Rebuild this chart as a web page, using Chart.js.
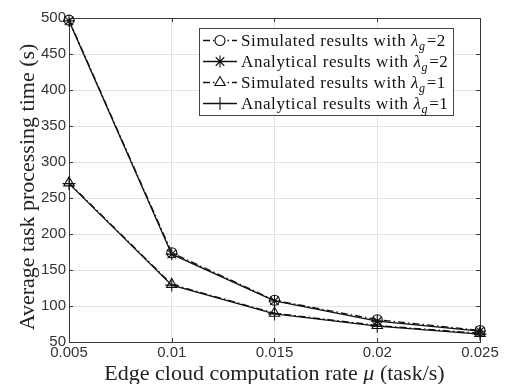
<!DOCTYPE html>
<html>
<head>
<meta charset="utf-8">
<script src="https://cdn.jsdelivr.net/npm/chart.js@4.4.0/dist/chart.umd.min.js"></script>
<style>
  html, body { margin: 0; padding: 0; background: #fff; }
  #wrap { width: 510px; height: 384px; }
</style>
</head>
<body>
<div id="wrap"><canvas id="myChart" width="510" height="384"></canvas></div>
<script>
// edge cloud computation rate (task/s)
const rates = [0.005, 0.01, 0.015, 0.02, 0.025];
const yTicks = [50, 100, 150, 200, 250, 300, 350, 400, 450, 500];

// average task processing time (s)
const simLambda2 = [497, 174, 108, 81, 66];
const anaLambda2 = [496, 172, 107, 79, 65];
const simLambda1 = [271, 130, 90, 73, 62];
const anaLambda1 = [270, 129, 89, 72, 61];

const seriesNames = ['Simulated results with ', 'Analytical results with ',
                     'Simulated results with ', 'Analytical results with '];
const seriesLambda = ['2', '2', '1', '1'];

const DASHDOT = [7, 3, 1.5, 3];
const AXIS_COLOR = '#3a3a3a';
const GRID_COLOR = '#e3e3e3';

function toPoints(values) {
  return values.map((v, i) => ({ x: rates[i], y: v }));
}

function makeSet(values, style, dash, radius) {
  return {
    data: toPoints(values),
    borderColor: '#111',
    borderWidth: 1.3,
    borderDash: dash,
    pointStyle: style,
    pointRadius: radius,
    pointHoverRadius: radius,
    pointBorderColor: '#111',
    pointBackgroundColor: 'rgba(0,0,0,0)',
    pointBorderWidth: 1.1,
    fill: false,
    tension: 0,
    clip: false
  };
}

const datasets = [
  makeSet(simLambda2, 'circle', DASHDOT, 5),
  makeSet(anaLambda2, 'star', [], 6),
  makeSet(simLambda1, 'triangle', DASHDOT, 6),
  makeSet(anaLambda1, 'cross', [], 6.5)
];

// inward ticks on all four sides plus the closing box
const frame = {
  id: 'frame',
  beforeDatasetsDraw(chart) {
    const { ctx, chartArea: a, scales } = chart;
    ctx.save();
    ctx.strokeStyle = AXIS_COLOR;
    ctx.lineWidth = 1;
    ctx.strokeRect(a.left + 0.5, a.top + 0.5, a.right - a.left, a.bottom - a.top);
    const len = 4;
    ctx.beginPath();
    rates.forEach(v => {
      const x = Math.round(scales.x.getPixelForValue(v)) + 0.5;
      ctx.moveTo(x, a.bottom); ctx.lineTo(x, a.bottom - len);
      ctx.moveTo(x, a.top); ctx.lineTo(x, a.top + len);
    });
    yTicks.forEach(v => {
      const y = Math.round(scales.y.getPixelForValue(v)) + 0.5;
      ctx.moveTo(a.left, y); ctx.lineTo(a.left + len, y);
      ctx.moveTo(a.right, y); ctx.lineTo(a.right - len, y);
    });
    ctx.stroke();
    ctx.restore();
  }
};

// axis titles with the italic mu
const titles = {
  id: 'titles',
  afterDraw(chart) {
    const { ctx, chartArea: a } = chart;
    ctx.save();
    ctx.fillStyle = '#222';
    ctx.textBaseline = 'alphabetic';

    // x title, mixed roman / italic
    const parts = [
      ['Edge cloud computation rate ', 'normal'],
      ['\u03bc', 'italic'],
      [' (task/s)', 'normal']
    ];
    const size = 22;
    let total = 0;
    parts.forEach(p => { ctx.font = p[1] + ' ' + size + 'px "Liberation Serif"'; total += ctx.measureText(p[0]).width; });
    let x = (a.left + a.right) / 2 - total / 2;
    parts.forEach(p => {
      ctx.font = p[1] + ' ' + size + 'px "Liberation Serif"';
      ctx.textAlign = 'left';
      ctx.fillText(p[0], x, 380);
      x += ctx.measureText(p[0]).width;
    });

    // y title
    ctx.translate(34, (a.top + a.bottom) / 2 + 7);
    ctx.rotate(-Math.PI / 2);
    ctx.font = size + 'px "Liberation Serif"';
    ctx.textAlign = 'center';
    ctx.fillText('Average task processing time (s)', 0, 0);
    ctx.restore();
  }
};

// legend box with the lambda_g subscripts
const legendBox = {
  id: 'legendBox',
  afterDraw(chart) {
    const { ctx } = chart;
    const box = { left: 199, top: 28, right: 453, bottom: 115 };
    const rows = [40, 61, 82, 103];
    ctx.save();
    ctx.fillStyle = '#fff';
    ctx.fillRect(box.left, box.top, box.right - box.left, box.bottom - box.top);
    ctx.strokeStyle = '#444';
    ctx.lineWidth = 1;
    ctx.strokeRect(box.left + 0.5, box.top + 0.5, box.right - box.left, box.bottom - box.top);

    datasets.forEach((ds, i) => {
      const y = rows[i];
      const x0 = box.left + 4, x1 = box.left + 38, xm = (x0 + x1) / 2;
      ctx.strokeStyle = '#111';
      ctx.lineWidth = 1.3;
      ctx.setLineDash(ds.borderDash);
      ctx.beginPath();
      ctx.moveTo(x0, y + 0.5); ctx.lineTo(x1, y + 0.5);
      ctx.stroke();
      ctx.setLineDash([]);
      ctx.lineWidth = 1.1;
      ctx.fillStyle = '#fff';
      Chart.helpers.drawPoint(ctx, {
        pointStyle: ds.pointStyle, radius: ds.pointRadius, rotation: 0, borderWidth: 1.1
      }, xm, y + 0.5);

      let tx = x1 + 4;
      const base = y + 6;
      ctx.fillStyle = '#111';
      ctx.textAlign = 'left';
      ctx.textBaseline = 'alphabetic';
      ctx.letterSpacing = '0.6px';
      ctx.font = '17px "Liberation Serif"';
      ctx.fillText(seriesNames[i], tx, base);
      tx += ctx.measureText(seriesNames[i]).width;
      ctx.font = 'italic 17px "Liberation Serif"';
      ctx.fillText('\u03bb', tx, base);
      tx += ctx.measureText('\u03bb').width;
      ctx.font = 'italic 12px "Liberation Serif"';
      ctx.fillText('g', tx, base + 4);
      tx += ctx.measureText('g').width + 1;
      ctx.font = '17px "Liberation Serif"';
      ctx.fillText('=' + seriesLambda[i], tx, base);
    });
    ctx.restore();
  }
};

const ctx = document.getElementById('myChart').getContext('2d');
const chart = new Chart(ctx, {
  type: 'line',
  data: { datasets },
  plugins: [frame, titles, legendBox],
  options: {
    responsive: false,
    animation: false,
    layout: { padding: { left: 0, right: 30, top: 18, bottom: 0 } },
    plugins: { legend: { display: false }, tooltip: { enabled: false } },
    scales: {
      x: {
        type: 'linear',
        min: rates[0],
        max: rates[rates.length - 1],
        afterBuildTicks: s => { s.ticks = rates.map(v => ({ value: v })); },
        afterFit: s => { s.height = 42; },
        ticks: {
          callback: v => String(v),
          color: '#333',
          font: { family: 'Liberation Sans', size: 15 },
          padding: 2,
          maxRotation: 0,
          autoSkip: false
        },
        grid: { color: GRID_COLOR, drawTicks: false },
        border: { color: AXIS_COLOR }
      },
      y: {
        min: yTicks[0],
        max: yTicks[yTicks.length - 1],
        afterBuildTicks: s => { s.ticks = yTicks.map(v => ({ value: v })); },
        afterFit: s => { s.width = 69; },
        ticks: {
          color: '#333',
          font: { family: 'Liberation Sans', size: 15 },
          padding: 3,
          autoSkip: false
        },
        grid: { color: GRID_COLOR, drawTicks: false },
        border: { color: AXIS_COLOR }
      }
    }
  }
});
</script>
</body>
</html>
